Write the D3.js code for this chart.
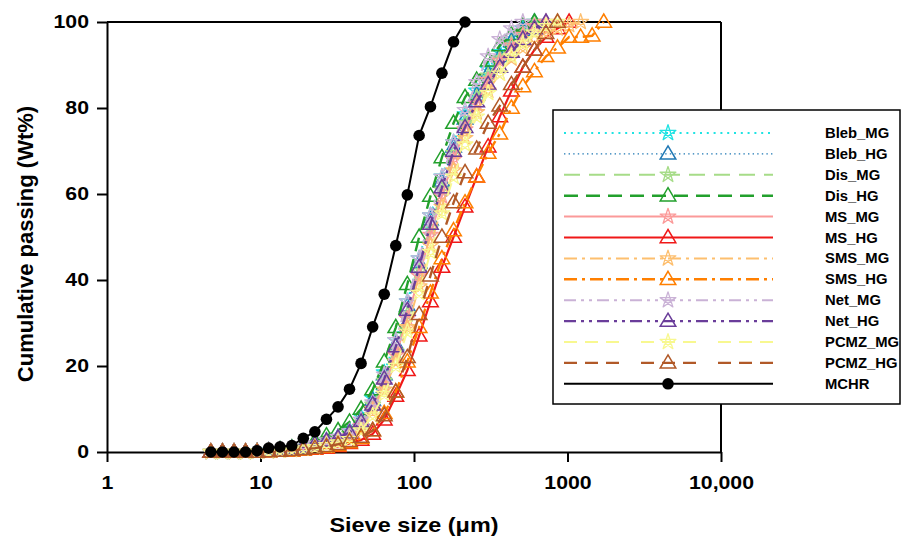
<!DOCTYPE html>
<html>
<head>
<meta charset="utf-8">
<script src="https://cdn.jsdelivr.net/npm/d3@7"></script>
<style>
  html, body { margin: 0; padding: 0; background: #fff; }
  svg { display: block; }
  text { font-family: "Liberation Sans", Arial, sans-serif; font-weight: bold; fill: #000; }
</style>
</head>
<body>
<svg id="chart" width="902" height="537"></svg>
<script>
// Sieve sizes (µm) shared by every series
const sizes = [4.75, 5.65, 6.72, 7.99, 9.5, 11.3, 13.4, 16.0, 19.0, 22.6, 26.9, 32.0, 38.0, 45.2,
  53.8, 64.0, 76.1, 90.5, 108, 128, 152, 181, 215, 256, 304, 362, 431, 512, 609, 724, 861,
  1024, 1218, 1448, 1722];

// Cumulative passing (Wt%) per sample, aligned with the sizes above
const blebMG = [0,0,0,0,0.1,0.3,0.5,0.8,1.2,1.8,2.6,3.5,5.2,8.2,12.5,18.5,26,35,45,55,64,72,78.5,84,89,93,96,98.5,100];
const blebHG = [0,0,0,0,0.1,0.2,0.4,0.7,1.1,1.7,2.4,3.3,4.8,7.6,12,18,25,34,44,54,63,71,77.5,83,88,92,95.5,98,100];
const disMG  = [0,0,0,0,0.1,0.2,0.4,0.6,1,1.5,2.2,3,4.2,6.8,11,16.5,23.5,32,42,52,61,69.5,76.5,82.5,87.5,91.5,95,97.5,100];
const disHG  = [0,0,0,0,0.1,0.3,0.6,1,1.6,2.5,3.8,5,7,10,14.5,21,29,39,50,59.5,68.5,76.5,82.5,86.5,91,94.5,97,99,100];
const msMG   = [0,0,0,0,0.1,0.2,0.3,0.5,0.9,1.3,1.9,2.6,3.6,6,10,15.5,22.5,31,41,50.5,59.5,68,75,81,86.5,91,94.5,97,99,100];
const msHG   = [0,0,0,0,0,0.1,0.2,0.3,0.5,0.7,0.9,1.3,2,2.8,4.2,7.5,13,19,27,35,43,50,57,64,71,78,84,89.5,93.5,96.5,98.5,100];
const smsMG  = [0,0,0,0,0.1,0.2,0.3,0.5,0.8,1.2,1.7,2.3,3.2,5.5,9.5,14.5,21,29,38.5,48,57,65.5,73,79,84,88,91.5,94,96,97.5,98.5,99.3,100];
const smsHG  = [0,0,0,0,0,0.1,0.2,0.3,0.5,0.8,1.1,1.5,2.2,3.2,5,9,14,21,29,37,45,51.5,58,64,69.5,74,80,85,88.5,92,94,96.5,96.5,96.8,100];
const netMG  = [0,0,0,0,0.1,0.3,0.5,0.8,1.3,1.9,2.7,3.5,4.8,7.5,11.5,18,26,35,45,55,64,72,79.5,86,92,96,98.5,100];
const netHG  = [0,0,0,0,0.1,0.3,0.5,0.8,1.2,1.8,2.6,3.3,4.5,7,11,17,24.5,33,43,53,61.5,70,75.5,81.5,85.5,89.5,93,96,98.5,100];
const pcmzMG = [0,0,0,0,0.1,0.2,0.3,0.5,0.8,1.1,1.6,2.2,3,5,8.5,13.5,20,28,37,46.5,55.5,64,71.5,78,83.5,88,92,95,97.5,99,100];
const pcmzHG = [0,0,0,0,0,0.1,0.2,0.4,0.6,0.9,1.3,1.8,2.5,3.5,5,8.5,14,22,32,41,50,58,65,70.5,76.5,80.5,85.5,89.5,93.5,97.4,100];
const mchr   = [0,0,0,0,0.3,0.9,1.2,1.5,3.2,4.7,7.6,10.5,14.6,20.6,29.1,36.7,48.0,59.8,73.6,80.3,88.1,95.4,100];

const seriesNames = ["Bleb_MG","Bleb_HG","Dis_MG","Dis_HG","MS_MG","MS_HG","SMS_MG","SMS_HG","Net_MG","Net_HG","PCMZ_MG","PCMZ_HG","MCHR"];
const seriesValues = [blebMG, blebHG, disMG, disHG, msMG, msHG, smsMG, smsHG, netMG, netHG, pcmzMG, pcmzHG, mchr];

const xTicks = [1, 10, 100, 1000, 10000];
const xTickLabels = ["1", "10", "100", "1000", "10,000"];
const yTicks = [0, 20, 40, 60, 80, 100];

// Drawing style per series: colour, dash pattern, line width, marker
const styles = [
  { color: "#1fe3e3", dash: "2,4.8",  width: 2,   marker: "star" },
  { color: "#1f78b4", dash: "1.4,3.2", width: 1.4, marker: "tri" },
  { color: "#a6dc88", dash: "16,9",   width: 2,   marker: "star" },
  { color: "#22a02c", dash: "14,8",   width: 2.4, marker: "tri" },
  { color: "#fb9a99", dash: null,     width: 2,   marker: "star" },
  { color: "#f01818", dash: null,     width: 2.2, marker: "tri" },
  { color: "#fdbf6f", dash: "13,5,3,5", width: 2, marker: "star" },
  { color: "#ff7f00", dash: "13,5,3,5", width: 2.4, marker: "tri" },
  { color: "#cab2d6", dash: "12,5,3,5,3,5", width: 2, marker: "star" },
  { color: "#6a3d9a", dash: "12,5,3,5,3,5", width: 2.4, marker: "tri" },
  { color: "#f8f890", dash: "13,8,13,8,13,22", width: 2, marker: "star" },
  { color: "#b15928", dash: "13,8,13,8,13,22", width: 2.4, marker: "tri" },
  { color: "#000000", dash: null,     width: 2,   marker: "dot" }
];

const svg = d3.select("#chart");
const x = d3.scaleLog().domain([1, 10000]).range([107, 721]);
const y = d3.scaleLinear().domain([0, 100]).range([452, 22]);

function starPath(r) {
  const pts = d3.range(5).map(i => {
    const a = -Math.PI / 2 + i * 2 * Math.PI / 5;
    return [r * Math.cos(a), r * Math.sin(a)];
  });
  const order = [0, 2, 4, 1, 3];
  return "M" + order.map(i => pts[i].join(",")).join("L") + "Z";
}
const triPath = "M0,-8L7.8,5.2L-7.8,5.2Z";

function drawMarker(g, kind, color, cx, cy) {
  if (kind === "dot") {
    g.append("circle").attr("cx", cx).attr("cy", cy).attr("r", 5.8).attr("fill", color);
  } else if (kind === "star") {
    g.append("path").attr("d", starPath(8.3)).attr("transform", `translate(${cx},${cy})`)
      .attr("fill", "none").attr("stroke", color).attr("stroke-width", 1.3).attr("stroke-linejoin", "round");
  } else {
    g.append("path").attr("d", triPath).attr("transform", `translate(${cx},${cy})`)
      .attr("fill", "none").attr("stroke", color).attr("stroke-width", 1.5);
  }
}

// Axes
const xAxis = d3.axisBottom(x).tickValues(xTicks).tickFormat((d, i) => xTickLabels[i])
  .tickSize(10).tickSizeOuter(0).tickPadding(14);
const yAxis = d3.axisLeft(y).tickValues(yTicks).tickSize(10).tickSizeOuter(0).tickPadding(8);

const gx = svg.append("g").attr("transform", "translate(0,452)").call(xAxis);
const gy = svg.append("g").attr("transform", "translate(107,0)").call(yAxis);
[gx, gy].forEach(g => {
  g.selectAll("path.domain").attr("stroke", "#000").attr("stroke-width", 2);
  g.selectAll(".tick line").attr("stroke", "#000").attr("stroke-width", 2);
  g.selectAll(".tick text").style("font-size", "18.5px")
    .style("font-family", "'Liberation Sans', Arial, sans-serif").style("font-weight", "bold");
});
gx.selectAll(".tick text").each(function () {
  const t = d3.select(this);
  t.attr("transform", `translate(${t.attr("x") || 0},0) scale(1.15,1)`).attr("x", 0);
});
gy.selectAll(".tick text").each(function () {
  const t = d3.select(this);
  t.attr("transform", `translate(${+t.attr("x")},0) scale(1.15,1)`).attr("x", 0);
});

// Top and right frame lines
svg.append("line").attr("x1", 107).attr("x2", 721).attr("y1", 22).attr("y2", 22)
  .attr("stroke", "#000").attr("stroke-width", 2);
svg.append("line").attr("x1", 721).attr("x2", 721).attr("y1", 22).attr("y2", 452)
  .attr("stroke", "#000").attr("stroke-width", 2);

// Axis titles
svg.append("text").attr("transform", "translate(414,532) scale(1.17,1)")
  .attr("text-anchor", "middle").style("font-size", "20px").text("Sieve size (μm)");
svg.append("text").attr("transform", "translate(33,244) rotate(-90)")
  .attr("text-anchor", "middle").style("font-size", "22px").text("Cumulative passing (Wt%)");

// Curves
const line = d3.line().x(d => x(d[0])).y(d => y(d[1]));
const plot = svg.append("g");
seriesValues.forEach((vals, si) => {
  const st = styles[si];
  const pts = vals.map((v, i) => [sizes[i], v]);
  const g = plot.append("g");
  g.append("path").attr("d", line(pts)).attr("fill", "none").attr("stroke", st.color)
    .attr("stroke-width", st.width).attr("stroke-dasharray", st.dash);
  pts.forEach(p => drawMarker(g, st.marker, st.color, x(p[0]), y(p[1])));
});

// Legend
const lg = svg.append("g");
lg.append("rect").attr("x", 553).attr("y", 110).attr("width", 347).attr("height", 294)
  .attr("fill", "#fff").attr("stroke", "#000").attr("stroke-width", 1.5);
seriesNames.forEach((name, i) => {
  const st = styles[i];
  const cy = 133 + i * 20.9;
  lg.append("line").attr("x1", 564).attr("x2", 773).attr("y1", cy).attr("y2", cy)
    .attr("stroke", st.color).attr("stroke-width", st.width).attr("stroke-dasharray", st.dash);
  drawMarker(lg, st.marker, st.color, 668, cy);
  lg.append("text").attr("transform", `translate(825,${cy + 5}) scale(1.06,1)`)
    .style("font-size", "14px").text(name);
});
</script>
</body>
</html>
